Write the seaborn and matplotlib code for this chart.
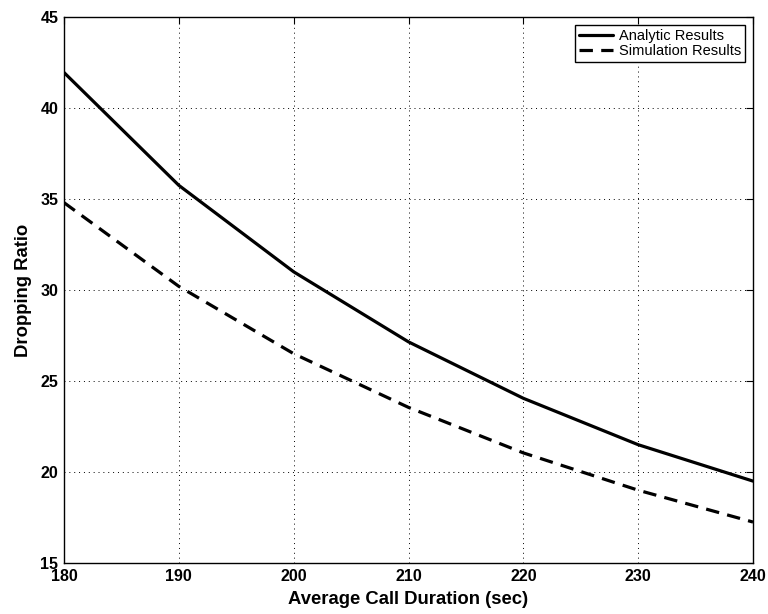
import matplotlib
matplotlib.use("Agg")
import matplotlib.pyplot as plt
import seaborn as sns
import pandas as pd

durations = [180, 190, 200, 210, 220, 230, 240]
analytic = [41.95, 35.75, 31.0, 27.15, 24.05, 21.5, 19.5]
simulation = [34.8, 30.2, 26.5, 23.55, 21.05, 19.0, 17.25]
series_names = ["Analytic Results", "Simulation Results"]
x_ticks = [180, 190, 200, 210, 220, 230, 240]
y_ticks = [15, 20, 25, 30, 35, 40, 45]

df = pd.DataFrame({
    "x": durations * 2,
    "y": analytic + simulation,
    "series": [series_names[0]] * len(durations) + [series_names[1]] * len(durations),
})

sns.set_style("white")
plt.rcParams["font.family"] = ["Liberation Sans", "DejaVu Sans"]
plt.rcParams["text.color"] = "black"
plt.rcParams["axes.labelcolor"] = "black"
plt.rcParams["xtick.color"] = "black"
plt.rcParams["ytick.color"] = "black"

fig = plt.figure(figsize=(7.68, 6.14), dpi=100)
ax = fig.add_axes([64 / 768, 1 - 563 / 614, (753 - 64) / 768, (563 - 17) / 614])

sns.lineplot(data=df, x="x", y="y", hue="series", style="series",
             palette=["black", "black"], dashes=[(None, None), (4.2, 2.6)],
             linewidth=2.3, ax=ax, legend=True)

ax.set_xlim(180, 240)
ax.set_ylim(15, 45)
ax.set_xticks(x_ticks)
ax.set_yticks(y_ticks)
ax.set_xticklabels([str(t) for t in x_ticks], fontweight="bold", fontsize=11.5)
ax.set_yticklabels([str(t) for t in y_ticks], fontweight="bold", fontsize=11.5)
ax.tick_params(axis="x", direction="in", top=True, length=5, width=0.8, pad=4, colors="black")
ax.tick_params(axis="y", direction="in", right=True, length=5, width=0.8, pad=4, colors="black")
ax.grid(True, color="black", linestyle=(0, (1, 4)), linewidth=0.7)
for s in ax.spines.values():
    s.set_visible(True)
    s.set_color("black")
    s.set_linewidth(1.0)

ax.set_xlabel("Average Call Duration (sec)", fontweight="bold", fontsize=13.3, labelpad=5, color="black")
ax.set_ylabel("Dropping Ratio", fontweight="bold", fontsize=13.3, labelpad=6, color="black")

leg = ax.legend(loc="upper right", fontsize=10.5, frameon=True, fancybox=False,
                edgecolor="black", framealpha=1, borderpad=0.28, handlelength=2.3,
                handletextpad=0.4, labelspacing=0.05, borderaxespad=0.55)
leg.get_frame().set_linewidth(1.0)
for t in leg.get_texts():
    t.set_color("black")

fig.savefig("out.png", dpi=100)
